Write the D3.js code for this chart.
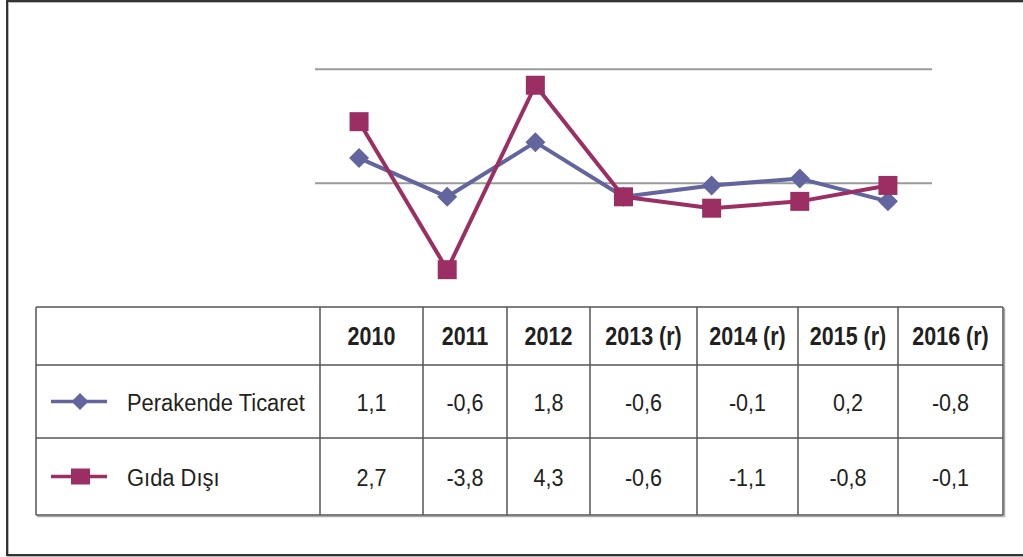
<!DOCTYPE html>
<html>
<head>
<meta charset="utf-8">
<script src="https://cdn.jsdelivr.net/npm/d3@7"></script>
<style>
  html, body { margin: 0; padding: 0; background: #fff; }
  svg { display: block; }
  text { font-family: "Liberation Sans", Arial, sans-serif; fill: #231f20; }
</style>
</head>
<body>
<svg id="chart" width="1023" height="557"></svg>
<script>
// ---- data ----
const categories = ["2010", "2011", "2012", "2013 (r)", "2014 (r)", "2015 (r)", "2016 (r)"];
const perakende = [1.1, -0.6, 1.8, -0.6, -0.1, 0.2, -0.8];
const gidaDisi  = [2.7, -3.8, 4.3, -0.6, -1.1, -0.8, -0.1];
const seriesNames = ["Perakende Ticaret", "Gıda Dışı"];
const gridTicks = [0, 5];
const yDomain = [-5, 5];

const colors = ["#63659e", "#9b2f63"];
const svg = d3.select("#chart");

// outer frame
svg.append("rect").attr("x", 8).attr("y", 2).attr("width", 1030).attr("height", 554)
  .attr("fill", "none").attr("stroke", "#bbb").attr("stroke-width", 2);
svg.append("rect").attr("x", 7).attr("y", 1).attr("width", 1030).attr("height", 554)
  .attr("fill", "none").attr("stroke", "#222").attr("stroke-width", 1.8);

// scales
const x = d3.scaleBand().domain(categories).range([315, 932]).padding(0);
const y = d3.scaleLinear().domain(yDomain).range([297, 69.3]);

// gridlines
svg.append("g").selectAll("line").data(gridTicks).join("line")
  .attr("x1", 315).attr("x2", 932)
  .attr("y1", d => y(d)).attr("y2", d => y(d))
  .attr("stroke", "#9a9a9a").attr("stroke-width", 2);

const cx = c => x(c) + x.bandwidth() / 2;
const line = d3.line().x((d, i) => cx(categories[i])).y(d => y(d));

const diamond = d3.symbol().type(d3.symbolSquare).size(200);
const square = d3.symbol().type(d3.symbolSquare).size(361);

// Perakende
svg.append("path").datum(perakende).attr("d", line)
  .attr("fill", "none").attr("stroke", colors[0]).attr("stroke-width", 4).attr("stroke-linejoin", "round");
svg.append("g").selectAll("path").data(perakende).join("path")
  .attr("d", diamond)
  .attr("transform", (d, i) => `translate(${cx(categories[i])},${y(d)}) rotate(45)`)
  .attr("fill", colors[0]);

// Gıda Dışı
svg.append("path").datum(gidaDisi).attr("d", line)
  .attr("fill", "none").attr("stroke", colors[1]).attr("stroke-width", 4).attr("stroke-linejoin", "round");
svg.append("g").selectAll("path").data(gidaDisi).join("path")
  .attr("d", square)
  .attr("transform", (d, i) => `translate(${cx(categories[i])},${y(d)})`)
  .attr("fill", colors[1]);

// ---- table ----
const colEdges = [36, 320, 423, 507, 590, 697, 798, 898, 1003];
const rowEdges = [307, 365, 438, 515];
const tbl = svg.append("g");
const tableStroke = "#555";
// shadow
tbl.append("line").attr("x1", 37).attr("x2", 1004).attr("y1", 516.5).attr("y2", 516.5).attr("stroke", "#aaa").attr("stroke-width", 1.5);
tbl.append("line").attr("x1", 1004.5).attr("x2", 1004.5).attr("y1", 308).attr("y2", 517).attr("stroke", "#aaa").attr("stroke-width", 1.5);
rowEdges.forEach(r => tbl.append("line").attr("x1", 36).attr("x2", 1003).attr("y1", r).attr("y2", r)
  .attr("stroke", tableStroke).attr("stroke-width", 1.5));
colEdges.forEach(c => tbl.append("line").attr("x1", c).attr("x2", c).attr("y1", 307).attr("y2", 515)
  .attr("stroke", tableStroke).attr("stroke-width", 1.5));

const colCenter = i => (colEdges[i + 1] + colEdges[i + 2]) / 2;
const rowCenter = j => (rowEdges[j] + rowEdges[j + 1]) / 2;

// header (condensed look via horizontal scaling)
tbl.selectAll("text.h").data(categories).join("text").attr("class", "h")
  .attr("transform", (d, i) => `translate(${colCenter(i)},${rowCenter(0) + 9}) scale(0.86,1)`)
  .attr("text-anchor", "middle")
  .attr("font-size", 25).attr("font-weight", "bold").text(d => d);

const fmt = v => d3.format(".1f")(v).replace(".", ",").replace("−", "-");

[perakende, gidaDisi].forEach((vals, j) => {
  const yc = rowCenter(j + 1);
  tbl.append("g").selectAll("text").data(vals).join("text")
    .attr("transform", (d, i) => `translate(${colCenter(i)},${yc + 9}) scale(0.88,1)`)
    .attr("text-anchor", "middle")
    .attr("font-size", 24.5).text(d => fmt(d));
  // legend key
  tbl.append("line").attr("x1", 51).attr("x2", 107).attr("y1", yc).attr("y2", yc)
    .attr("stroke", colors[j]).attr("stroke-width", 3.5);
  if (j === 0) {
    tbl.append("path").attr("d", d3.symbol().type(d3.symbolSquare).size(144)())
      .attr("transform", `translate(80,${yc}) rotate(45)`).attr("fill", colors[j]);
  } else {
    tbl.append("rect").attr("x", 71).attr("y", yc - 8).attr("width", 19).attr("height", 16)
      .attr("fill", colors[j]);
  }
  tbl.append("text").attr("transform", `translate(127,${yc + 9}) scale(0.895,1)`)
    .attr("font-size", 24.5).text(seriesNames[j]);
});
</script>
</body>
</html>
